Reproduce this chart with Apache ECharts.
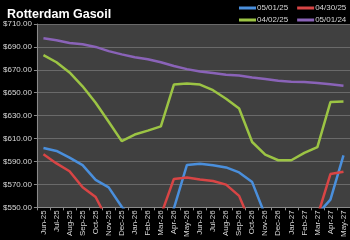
<!DOCTYPE html>
<html><head><meta charset="utf-8">
<script src="https://cdn.jsdelivr.net/npm/echarts@6/dist/echarts.min.js"></script>
<style>html,body{margin:0;padding:0;background:#000;}#c{width:350px;height:240px;}</style>
</head><body><div id="c"></div>
<script>
var categories = ['Jun-25','Jul-25','Aug-25','Sep-25','Oct-25','Nov-25','Dec-25','Jan-26','Feb-26','Mar-26','Apr-26','May-26','Jun-26','Jul-26','Aug-26','Sep-26','Oct-26','Nov-26','Dec-26','Jan-27','Feb-27','Mar-27','Apr-27','May-27'];
var s050125 = [601.8,599.2,593.4,586.8,573.9,567.4,550.5,538,533,535,549,587,588,586.8,584.8,580.5,572,543,535,532,535,544,556.7,595.4];
var s043025 = [596.3,588.3,581.5,567.5,559,537,530,528,532,543,574.8,576,574.2,573,569.8,560,533,528,526,527,532,542,579,581];
var s040225 = [682.9,676.6,667.7,655.6,641.3,624.7,607.8,613.5,616.9,620.7,657.1,658,657.1,652.2,644.8,636.2,607,596,591.1,591.1,597.5,602.6,641.9,642.4];
var s050124 = [697.5,695.8,693.5,692.4,690,686.3,683.5,681,679.2,676.6,673.4,670.6,668.5,667.2,665.7,665.1,663.4,662,660.5,659.7,659.4,658.5,657.4,656.2];
var seriesNames = ['05/01/25','04/30/25','04/02/25','05/01/24'];
var yMin = 550, yMax = 710, yStep = 20;

var colors = ['#4a8fdc','#d84545','#9cc444','#8a63b8'];
var allData = [s050125, s043025, s040225, s050124];
var chart = echarts.init(document.getElementById('c'));
var series = allData.map(function(d, i){
  return {name: seriesNames[i], type: 'line', data: d, symbol: 'none', clip: true,
    lineStyle: {width: 2.5, color: colors[i]}, itemStyle: {color: colors[i]}};
});
var legendCommon = {orient: 'horizontal', icon: 'rect', itemWidth: 17, itemHeight: 3, itemGap: 9,
  width: 130, padding: 0,
  textStyle: {color: '#d8d8d8', fontSize: 8, fontFamily: 'Liberation Sans', padding: [0,0,0,-4]}};
chart.setOption({
  backgroundColor: '#000',
  animation: false,
  title: {text: 'Rotterdam Gasoil', left: 2, top: 3, textStyle: {color: '#fff', fontSize: 12.5, fontWeight: 'bold', fontFamily: 'Liberation Sans'}},
  legend: [
    Object.assign({data: [seriesNames[0], seriesNames[1]], left: 239, top: 4}, legendCommon),
    Object.assign({data: [seriesNames[2], seriesNames[3]], left: 239, top: 16}, legendCommon)
  ],
  grid: {left: 36, right: 0, top: 24, bottom: 30.5, show: true, backgroundColor: '#404040', borderWidth: 0},
  xAxis: {type: 'category', data: categories, boundaryGap: true,
    axisLine: {lineStyle: {color: '#8a8a8a'}},
    axisTick: {show: true, length: 3, lineStyle: {color: '#8a8a8a'}},
    axisLabel: {rotate: 90, interval: 0, margin: 3, color: '#d8d8d8', fontSize: 8, fontFamily: 'Liberation Sans'}},
  yAxis: {type: 'value', min: yMin, max: yMax, interval: yStep,
    axisLine: {show: true, lineStyle: {color: '#8a8a8a'}},
    axisTick: {show: true, length: 3, lineStyle: {color: '#8a8a8a'}},
    splitLine: {lineStyle: {color: '#6a6a6a', width: 1}},
    axisLabel: {margin: 5, color: '#d8d8d8', fontSize: 8, fontFamily: 'Liberation Sans',
      formatter: function(v){ return '$' + v.toFixed(2); }}},
  series: series
});
</script></body></html>
